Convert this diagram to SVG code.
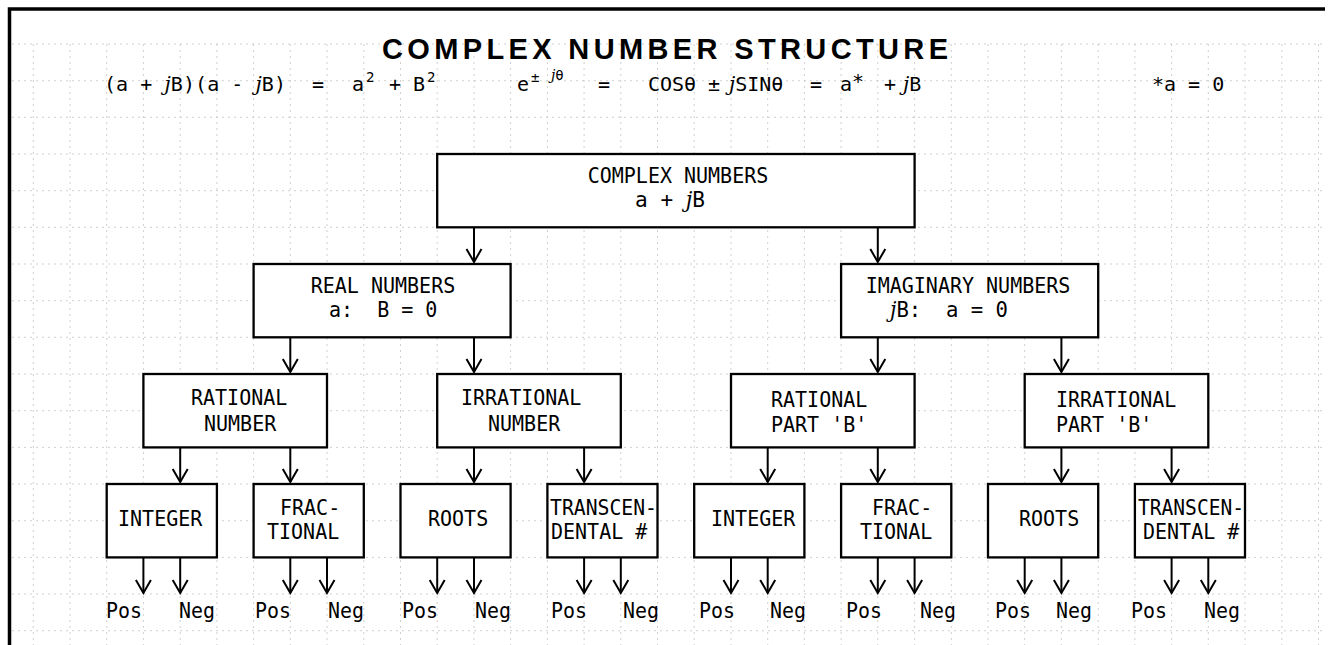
<svg xmlns="http://www.w3.org/2000/svg" width="1332" height="645" viewBox="0 0 1332 645">
<defs>
<marker id="ah" markerUnits="userSpaceOnUse" markerWidth="18" markerHeight="18" viewBox="0 0 18 18" refX="14" refY="9" orient="auto">
<path d="M1,1.5 L14,9 L1,16.5" fill="none" stroke="#000" stroke-width="2"/>
</marker>
</defs>
<style>
.bx{fill:#fff;stroke:#000;stroke-width:2.3}
.t{font-family:"DejaVu Sans Mono","Liberation Mono",monospace;font-size:21.5px;fill:#000}
.e{font-family:"DejaVu Sans Mono","Liberation Mono",monospace;font-size:20px;fill:#000}
.sup{font-size:14px}
.j{font-style:italic;font-family:"DejaVu Serif","Liberation Serif",serif}
.ar{stroke:#000;stroke-width:2;fill:none;marker-end:url(#ah)}
.g{stroke:#c4c4c4;stroke-width:0.8;stroke-dasharray:2 4;fill:none}
.ttl{font-family:"Liberation Sans",Arial,sans-serif;font-weight:bold;font-size:29px;fill:#000}
</style>
<rect x="0" y="0" width="1332" height="645" fill="#fff"/>
<g id="grid" class="g">
<path d="M33.3,44V645M70,44V645M106.7,44V645M143.4,44V645M180.2,44V645M216.9,44V645M253.6,44V645M290.3,44V645M327,44V645M363.8,44V645M400.5,44V645M437.2,44V645M474,44V645M510.6,44V645M547.4,44V645M584.1,44V645M620.8,44V645M657.5,44V645M694.2,44V645M731,44V645M767.7,44V645M804.4,44V645M841.1,44V645M877.8,44V645M914.6,44V645M951.3,44V645M988,44V645M1024.7,44V645M1061.4,44V645M1098.2,44V645M1134.9,44V645M1171.6,44V645M1208.3,44V645M1245,44V645M1281.8,44V645M1318.5,44V645"/>
<path d="M12,44H1322M12,80.7H1322M12,117.3H1322M12,154H1322M12,190.7H1322M12,227.3H1322M12,264H1322M12,300.7H1322M12,337.3H1322M12,374H1322M12,410.7H1322M12,447.4H1322M12,484H1322M12,520.7H1322M12,557.4H1322M12,594H1322M12,630.7H1322"/>
</g>
<g id="frame">
<path d="M9.5,645V9H1325" fill="none" stroke="#000" stroke-width="3.5"/>
</g>
<g id="title">
<text class="ttl" x="665" y="59" text-anchor="middle" textLength="566" lengthAdjust="spacing">COMPLEX NUMBER STRUCTURE</text>
</g>
<g id="equations">
<text class="e" x="104" y="91" textLength="182" lengthAdjust="spacing">(a + <tspan class="j">j</tspan>B)(a - <tspan class="j">j</tspan>B)</text>
<text class="e" x="312" y="91">=</text>
<text class="e" x="352" y="91">a</text>
<text class="e sup" x="366" y="82">2</text>
<text class="e" x="389" y="91">+</text>
<text class="e" x="413" y="91">B</text>
<text class="e sup" x="427" y="82">2</text>
<text class="e" x="517" y="91">e</text>
<text class="e sup" x="531" y="82">±</text>
<text class="e sup" x="551" y="80"><tspan class="j">j</tspan>θ</text>
<text class="e" x="598" y="91">=</text>
<text class="e" x="648" y="91">COSθ</text>
<text class="e" x="708" y="91">±</text>
<text class="e" x="729" y="91"><tspan class="j">j</tspan>SINθ</text>
<text class="e" x="810" y="91">=</text>
<text class="e" x="840" y="91">a</text>
<text class="e" x="852" y="88">*</text>
<text class="e" x="884" y="91">+</text>
<text class="e" x="903" y="91"><tspan class="j">j</tspan>B</text>
<text class="e" x="1152" y="91">*a = 0</text>
</g>
<g id="connectors">
<path class="ar" d="M474,227.3V262"/>
<path class="ar" d="M877.8,227.3V262"/>
<path class="ar" d="M290.3,337.3V372"/>
<path class="ar" d="M474,337.3V372"/>
<path class="ar" d="M877.8,337.3V372"/>
<path class="ar" d="M1061.4,337.3V372"/>
<path class="ar" d="M180.2,447.4V482"/>
<path class="ar" d="M290.3,447.4V482"/>
<path class="ar" d="M474,447.4V482"/>
<path class="ar" d="M584.1,447.4V482"/>
<path class="ar" d="M767.7,447.4V482"/>
<path class="ar" d="M877.8,447.4V482"/>
<path class="ar" d="M1061.4,447.4V482"/>
<path class="ar" d="M1171.6,447.4V482"/>
<path class="ar" d="M143.4,557.4V593"/>
<path class="ar" d="M180.2,557.4V593"/>
<path class="ar" d="M290.3,557.4V593"/>
<path class="ar" d="M327,557.4V593"/>
<path class="ar" d="M437.2,557.4V593"/>
<path class="ar" d="M474,557.4V593"/>
<path class="ar" d="M584.1,557.4V593"/>
<path class="ar" d="M620.8,557.4V593"/>
<path class="ar" d="M731,557.4V593"/>
<path class="ar" d="M767.7,557.4V593"/>
<path class="ar" d="M877.8,557.4V593"/>
<path class="ar" d="M914.6,557.4V593"/>
<path class="ar" d="M1024.7,557.4V593"/>
<path class="ar" d="M1061.4,557.4V593"/>
<path class="ar" d="M1171.6,557.4V593"/>
<path class="ar" d="M1208.3,557.4V593"/>
</g>
<g id="complex">
<rect class="bx" x="437.2" y="154" width="477.4" height="73.3"/>
<text class="t" x="678" y="183" text-anchor="middle" textLength="180.6" lengthAdjust="spacingAndGlyphs">COMPLEX NUMBERS</text>
<text class="t" x="670" y="207" text-anchor="middle" textLength="70" lengthAdjust="spacingAndGlyphs">a + <tspan class="j">j</tspan>B</text>
</g>
<g id="real">
<rect class="bx" x="253.6" y="264" width="257" height="73.3"/>
<text class="t" x="383" y="293" text-anchor="middle" textLength="144.5" lengthAdjust="spacingAndGlyphs">REAL NUMBERS</text>
<text class="t" x="329" y="317" xml:space="preserve" textLength="108.4" lengthAdjust="spacingAndGlyphs">a:  B = 0</text>
</g>
<g id="imaginary">
<rect class="bx" x="841.1" y="264" width="257.1" height="73.3"/>
<text class="t" x="968" y="293" text-anchor="middle" textLength="204.7" lengthAdjust="spacingAndGlyphs">IMAGINARY NUMBERS</text>
<text class="t" x="890" y="317" xml:space="preserve" textLength="118" lengthAdjust="spacingAndGlyphs"><tspan class="j">j</tspan>B:  a = 0</text>
</g>
<g id="rational">
<rect class="bx" x="143.4" y="374" width="183.6" height="73.4"/>
<text class="t" x="191" y="405" textLength="96.3" lengthAdjust="spacingAndGlyphs">RATIONAL</text>
<text class="t" x="204" y="431" textLength="72.2" lengthAdjust="spacingAndGlyphs">NUMBER</text>
</g>
<g id="irrational">
<rect class="bx" x="437.2" y="374" width="183.6" height="73.4"/>
<text class="t" x="461" y="405" textLength="120.4" lengthAdjust="spacingAndGlyphs">IRRATIONAL</text>
<text class="t" x="488" y="431" textLength="72.2" lengthAdjust="spacingAndGlyphs">NUMBER</text>
</g>
<g id="rational-b">
<rect class="bx" x="731" y="374" width="183.6" height="73.4"/>
<text class="t" x="771" y="407" textLength="96.3" lengthAdjust="spacingAndGlyphs">RATIONAL</text>
<text class="t" x="771" y="432" textLength="96.3" lengthAdjust="spacingAndGlyphs">PART 'B'</text>
</g>
<g id="irrational-b">
<rect class="bx" x="1024.7" y="374" width="183.6" height="73.4"/>
<text class="t" x="1056" y="407" textLength="120.4" lengthAdjust="spacingAndGlyphs">IRRATIONAL</text>
<text class="t" x="1056" y="432" textLength="96.3" lengthAdjust="spacingAndGlyphs">PART 'B'</text>
</g>
<g id="integer-1">
<rect class="bx" x="106.7" y="484" width="110.2" height="73.4"/>
<text class="t" x="118" y="526" textLength="84.3" lengthAdjust="spacingAndGlyphs">INTEGER</text>
</g>
<g id="fractional-1">
<rect class="bx" x="253.6" y="484" width="110.2" height="73.4"/>
<text class="t" x="280" y="515" textLength="60.2" lengthAdjust="spacingAndGlyphs">FRAC-</text>
<text class="t" x="267" y="539" textLength="72.2" lengthAdjust="spacingAndGlyphs">TIONAL</text>
</g>
<g id="roots-1">
<rect class="bx" x="400.5" y="484" width="110.1" height="73.4"/>
<text class="t" x="428" y="526" textLength="60.2" lengthAdjust="spacingAndGlyphs">ROOTS</text>
</g>
<g id="transcendental-1">
<rect class="bx" x="547.4" y="484" width="110.1" height="73.4"/>
<text class="t" x="550" y="515" textLength="107" lengthAdjust="spacingAndGlyphs">TRANSCEN-</text>
<text class="t" x="551" y="539" textLength="96.3" lengthAdjust="spacingAndGlyphs">DENTAL #</text>
</g>
<g id="integer-2">
<rect class="bx" x="694.2" y="484" width="110.2" height="73.4"/>
<text class="t" x="711" y="526" textLength="84.3" lengthAdjust="spacingAndGlyphs">INTEGER</text>
</g>
<g id="fractional-2">
<rect class="bx" x="841.1" y="484" width="110.2" height="73.4"/>
<text class="t" x="872" y="515" textLength="60.2" lengthAdjust="spacingAndGlyphs">FRAC-</text>
<text class="t" x="860" y="539" textLength="72.2" lengthAdjust="spacingAndGlyphs">TIONAL</text>
</g>
<g id="roots-2">
<rect class="bx" x="988" y="484" width="110.2" height="73.4"/>
<text class="t" x="1019" y="526" textLength="60.2" lengthAdjust="spacingAndGlyphs">ROOTS</text>
</g>
<g id="transcendental-2">
<rect class="bx" x="1134.9" y="484" width="110.1" height="73.4"/>
<text class="t" x="1138" y="515" textLength="106" lengthAdjust="spacingAndGlyphs">TRANSCEN-</text>
<text class="t" x="1143" y="539" textLength="96.3" lengthAdjust="spacingAndGlyphs">DENTAL #</text>
</g>
<g id="signs">
<text class="t" x="106" y="618" textLength="36" lengthAdjust="spacingAndGlyphs">Pos</text><text class="t" x="179" y="618" textLength="36" lengthAdjust="spacingAndGlyphs">Neg</text>
<text class="t" x="255" y="618" textLength="36" lengthAdjust="spacingAndGlyphs">Pos</text><text class="t" x="328" y="618" textLength="36" lengthAdjust="spacingAndGlyphs">Neg</text>
<text class="t" x="402" y="618" textLength="36" lengthAdjust="spacingAndGlyphs">Pos</text><text class="t" x="475" y="618" textLength="36" lengthAdjust="spacingAndGlyphs">Neg</text>
<text class="t" x="551" y="618" textLength="36" lengthAdjust="spacingAndGlyphs">Pos</text><text class="t" x="623" y="618" textLength="36" lengthAdjust="spacingAndGlyphs">Neg</text>
<text class="t" x="699" y="618" textLength="36" lengthAdjust="spacingAndGlyphs">Pos</text><text class="t" x="770" y="618" textLength="36" lengthAdjust="spacingAndGlyphs">Neg</text>
<text class="t" x="846" y="618" textLength="36" lengthAdjust="spacingAndGlyphs">Pos</text><text class="t" x="920" y="618" textLength="36" lengthAdjust="spacingAndGlyphs">Neg</text>
<text class="t" x="995" y="618" textLength="36" lengthAdjust="spacingAndGlyphs">Pos</text><text class="t" x="1056" y="618" textLength="36" lengthAdjust="spacingAndGlyphs">Neg</text>
<text class="t" x="1131" y="618" textLength="36" lengthAdjust="spacingAndGlyphs">Pos</text><text class="t" x="1204" y="618" textLength="36" lengthAdjust="spacingAndGlyphs">Neg</text>
</g>
</svg>
